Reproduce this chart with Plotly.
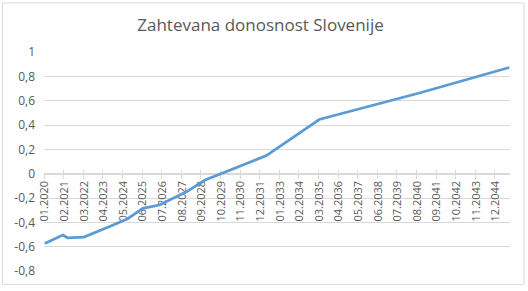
import plotly.graph_objects as go

# ---------------- data ----------------
chart_title = "Zahtevana donosnost Slovenije"

point_months = ["01.2020", "01.2021", "04.2021", "03.2022", "08.2023", "08.2024",
                "06.2025", "05.2026", "11.2027", "11.2028", "04.2032", "03.2035",
                "10.2040", "09.2045"]
point_values = [-0.573, -0.505, -0.527, -0.521, -0.435, -0.37,
                -0.285, -0.258, -0.149, -0.054, 0.149, 0.445,
                0.665, 0.873]

x_tick_labels = ["01.2020", "02.2021", "03.2022", "04.2023", "05.2024", "06.2025",
                 "07.2026", "08.2027", "09.2028", "10.2029", "11.2030", "12.2031",
                 "01.2033", "02.2034", "03.2035", "04.2036", "05.2037", "06.2038",
                 "07.2039", "08.2040", "09.2041", "10.2042", "11.2043", "12.2044"]

y_tick_values = [-0.8, -0.6, -0.4, -0.2, 0, 0.2, 0.4, 0.6, 0.8, 1]
y_tick_labels = ["-0,8", "-0,6", "-0,4", "-0,2", "0", "0,2", "0,4", "0,6", "0,8", "1"]

first_month = "01.2020"
last_month = "09.2045"


def month_index(s):
    mm, yy = s.split(".")
    f_mm, f_yy = first_month.split(".")
    return (int(yy) - int(f_yy)) * 12 + int(mm) - int(f_mm)


xs = [month_index(m) for m in point_months]
label_pos = [month_index(m) for m in x_tick_labels]
boundary_pos = [p - 0.5 for p in label_pos]
x_range = [-0.5, month_index(last_month) + 0.5]
y_range = [y_tick_values[0], y_tick_values[-1]]
zero_pos = (0 - y_range[0]) / (y_range[1] - y_range[0])

W, H = 528, 291
ML, MR, MT, MB = 44, 18, 52, 18
PW, PH = W - ML - MR, H - MT - MB

text_color = "#595959"
grid_color = "#d9d9d9"
font_family = "Open Sans"

fig = go.Figure()
fig.add_trace(go.Scatter(x=xs, y=point_values, mode="lines",
                         line=dict(color="#5b9bd5", width=2.75),
                         hoverinfo="skip", showlegend=False))
# helper empty traces so overlay axes get drawn
fig.add_trace(go.Scatter(x=[], y=[], xaxis="x2", yaxis="y", showlegend=False))
fig.add_trace(go.Scatter(x=[], y=[], xaxis="x3", yaxis="y", showlegend=False))

common_x = dict(range=x_range, showgrid=False, zeroline=False, anchor="free",
                position=zero_pos, side="bottom", fixedrange=True,
                layer="below traces")

fig.update_layout(
    width=W, height=H,
    margin=dict(l=ML, r=MR, t=MT, b=MB),
    paper_bgcolor="white", plot_bgcolor="white",
    font=dict(family=font_family, color=text_color),
    title=dict(text=chart_title, x=260.5 / W, xref="container", xanchor="center",
               y=1 - 25.5 / H, yref="container", yanchor="middle",
               font=dict(size=17, color=text_color, family=font_family)),
    xaxis=dict(**common_x, tickvals=label_pos, ticktext=x_tick_labels,
               tickangle=-90, ticks="", showline=False, ticklabelstandoff=4,
               tickfont=dict(size=11, color=text_color, family=font_family)),
    xaxis2=dict(**common_x, overlaying="x", tickvals=boundary_pos, ticks="outside",
                ticklen=4, tickcolor=grid_color, tickwidth=1, showticklabels=False,
                showline=True, linecolor=grid_color, linewidth=1),
    xaxis3=dict(**common_x, overlaying="x", tickvals=boundary_pos, ticks="inside",
                ticklen=4, tickcolor=grid_color, tickwidth=1, showticklabels=False,
                showline=False),
    yaxis=dict(range=y_range, tickvals=y_tick_values, ticktext=y_tick_labels,
               showgrid=True, gridcolor=grid_color, gridwidth=1, zeroline=False,
               showline=False, ticks="", ticklabelstandoff=8, fixedrange=True,
               layer="below traces",
               tickfont=dict(size=12, color=text_color, family=font_family)),
    shapes=[dict(type="rect", xref="paper", yref="paper",
                 x0=(2.5 - ML) / PW, x1=(524 - ML) / PW,
                 y0=(MT + PH - 286.5) / PH, y1=(MT + PH - 2.5) / PH,
                 line=dict(color=grid_color, width=1), fillcolor="rgba(0,0,0,0)",
                 layer="below")],
)

fig.write_html("out.html")
